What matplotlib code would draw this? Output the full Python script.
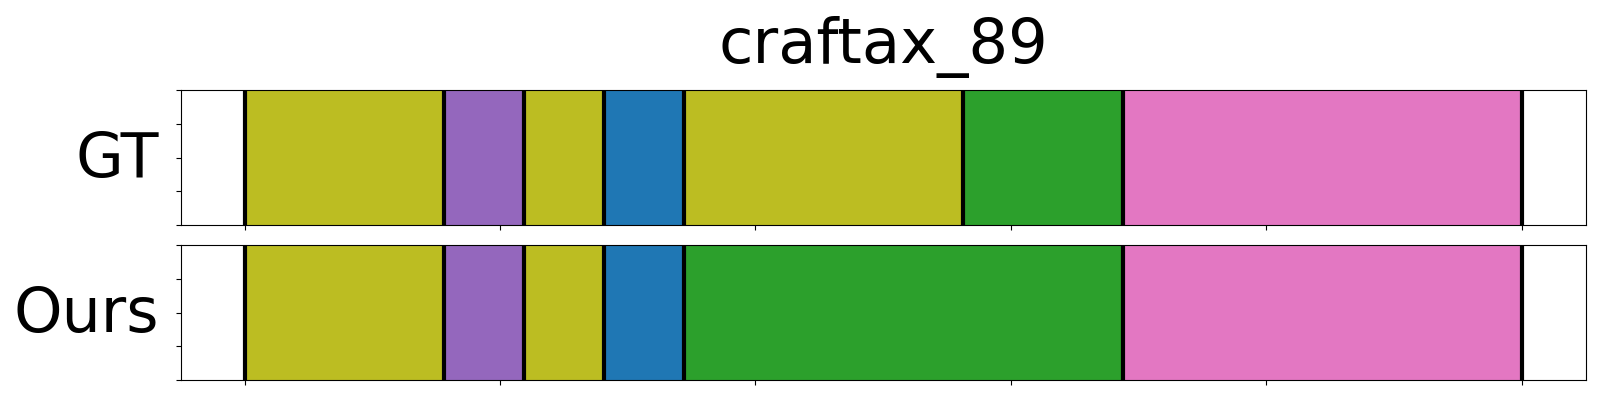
import numpy as np
import matplotlib
matplotlib.use('Agg')
from matplotlib import pyplot as plt

title = 'craftax_89'
row_names = ['GT', 'Ours']
n_steps = 32
# segment classes and lengths (in steps) for each row
gt_labels = ['olive', 'purple', 'olive', 'blue', 'olive', 'green', 'pink']
gt_lengths = [5, 2, 2, 2, 7, 4, 10]
ours_labels = ['olive', 'purple', 'olive', 'blue', 'green', 'pink']
ours_lengths = [5, 2, 2, 2, 11, 10]

colors = {'olive': 'tab:olive', 'purple': 'tab:purple', 'blue': 'tab:blue',
          'green': 'tab:green', 'pink': 'tab:pink'}

fig = plt.figure(figsize=(16, 4), dpi=100)
ax1 = fig.add_axes([0.113, 0.4375, 0.878, 0.3363])
ax2 = fig.add_axes([0.113, 0.05, 0.878, 0.3375])

rows = [(gt_labels, gt_lengths), (ours_labels, ours_lengths)]
for ax, name, (labels, lengths) in zip([ax1, ax2], row_names, rows):
    bounds = np.concatenate([[0], np.cumsum(lengths)]) / n_steps
    for lab, start, end in zip(labels, bounds[:-1], bounds[1:]):
        ax.axvspan(start, end, ymin=0, ymax=1, facecolor=colors[lab],
                   edgecolor=colors[lab], lw=0.5)
    for b in bounds:
        ax.axvline(b, color='black', lw=3)
    ax.set_xlim(-0.05, 1.05)
    ax.set_ylim(0, 1)
    ax.set_xticks(np.linspace(0, 1, 6))
    ax.set_yticks([0, 0.25, 0.5, 0.75, 1])
    ax.set_xticklabels([])
    ax.set_yticklabels([])
    ax.set_ylabel(name, fontsize=44.5, rotation=0, ha='right', va='center')
    ax.yaxis.set_label_coords(-0.0155, 0.48)

ax1.set_title(title, fontsize=45, pad=20)
plt.savefig('out.png', dpi=100)
